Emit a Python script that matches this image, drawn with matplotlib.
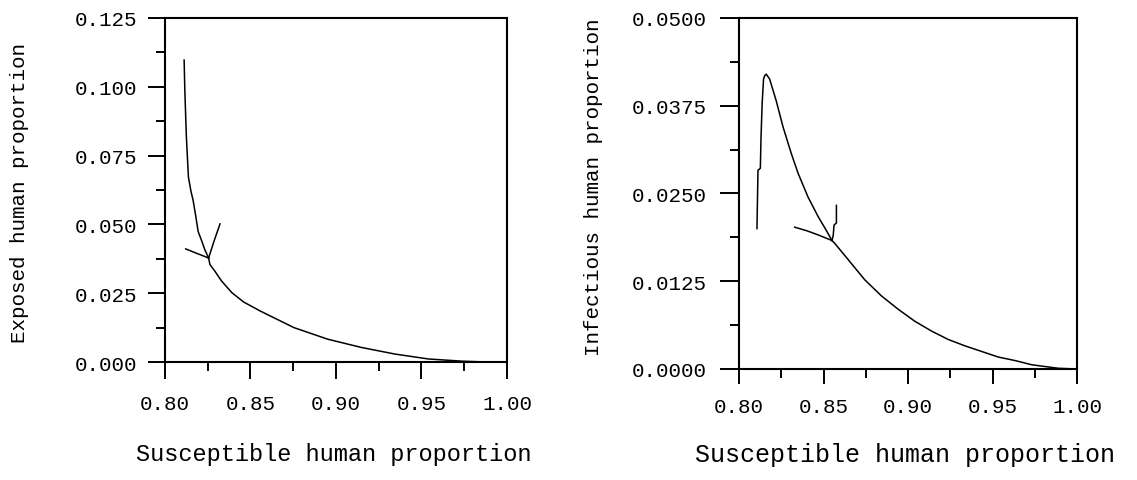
import matplotlib
matplotlib.use("Agg")
import matplotlib.pyplot as plt
from matplotlib.ticker import FixedLocator, FormatStrFormatter

plt.rcParams["font.family"] = ["Liberation Mono", "DejaVu Sans Mono"]

# ---- left panel: exposed vs susceptible (phase trajectories) ----
e_traj_s = [
    [0.8112, 0.8116, 0.8125, 0.8137, 0.8152, 0.8164, 0.8180, 0.8194, 0.8215, 0.8233, 0.8255],
    [0.8121, 0.8185, 0.8255],
    [0.8322, 0.8290, 0.8255],
    [1.0000, 0.9836, 0.9738, 0.9541, 0.9344, 0.9148, 0.8951, 0.8754, 0.8558,
     0.8460, 0.8391, 0.8330, 0.8292, 0.8263, 0.8255],
]
e_traj_e = [
    [0.1097, 0.0988, 0.0820, 0.0673, 0.0620, 0.0589, 0.0530, 0.0474, 0.0440, 0.0408, 0.0378],
    [0.0411, 0.0395, 0.0378],
    [0.0502, 0.0445, 0.0378],
    [0.0000, 0.0001, 0.0003, 0.0011, 0.0029, 0.0053, 0.0083, 0.0125, 0.0185,
     0.0218, 0.0252, 0.0295, 0.0330, 0.0354, 0.0378],
]

# ---- right panel: infectious vs susceptible ----
i_traj_s = [
    [0.8106, 0.8112, 0.8126, 0.8130, 0.8137, 0.8145, 0.8152, 0.8161, 0.8181,
     0.8220, 0.8260, 0.8309, 0.8349, 0.8408, 0.8468, 0.8510, 0.8550],
    [0.8329, 0.8400, 0.8468, 0.8550],
    [0.8576, 0.8576, 0.8562, 0.8557, 0.8550],
    [1.0000, 0.9889, 0.9732, 0.9633, 0.9534, 0.9435, 0.9336, 0.9238, 0.9139,
     0.9040, 0.8942, 0.8843, 0.8744, 0.8645, 0.8566, 0.8550],
]
i_traj_i = [
    [0.0200, 0.0283, 0.0286, 0.0330, 0.0380, 0.0413, 0.0418, 0.0420, 0.0413,
     0.0382, 0.0345, 0.0307, 0.0279, 0.0245, 0.0217, 0.0200, 0.0183],
    [0.0202, 0.0197, 0.0191, 0.0183],
    [0.0233, 0.0208, 0.0205, 0.0190, 0.0183],
    [0.0000, 0.0001, 0.0006, 0.0012, 0.0017, 0.0025, 0.0033, 0.0042, 0.0054,
     0.0068, 0.0085, 0.0104, 0.0127, 0.0156, 0.0179, 0.0183],
]

x_major = [0.80, 0.85, 0.90, 0.95, 1.00]
x_minor = [0.825, 0.875, 0.925, 0.975]
e_major = [0.000, 0.025, 0.050, 0.075, 0.100, 0.125]
e_minor = [0.0125, 0.0375, 0.0625, 0.0875, 0.1125]
i_major = [0.0000, 0.0125, 0.0250, 0.0375, 0.0500]
i_minor = [0.00625, 0.01875, 0.03125, 0.04375]

fig = plt.figure(figsize=(11.37, 4.81), dpi=100)
ax1 = fig.add_axes([0.1451, 0.2453, 0.3008, 0.7152])
ax2 = fig.add_axes([0.6500, 0.2308, 0.2973, 0.7297])


def style(ax, ymaj, ymin, yfmt, ylim, ylen, xlen, ypad, xpad):
    ax.set_xlim(0.8, 1.0)
    ax.set_ylim(*ylim)
    ax.xaxis.set_major_locator(FixedLocator(x_major))
    ax.xaxis.set_minor_locator(FixedLocator(x_minor))
    ax.yaxis.set_major_locator(FixedLocator(ymaj))
    ax.yaxis.set_minor_locator(FixedLocator(ymin))
    ax.xaxis.set_major_formatter(FormatStrFormatter("%.2f"))
    ax.yaxis.set_major_formatter(FormatStrFormatter(yfmt))
    ax.tick_params(which="both", direction="out", width=1.4, color="black",
                   labelsize=15)
    ax.tick_params(axis="y", which="major", length=ylen, pad=ypad)
    ax.tick_params(axis="x", which="major", length=xlen, pad=xpad)
    ax.tick_params(axis="y", which="minor", length=6.5)
    ax.tick_params(axis="x", which="minor", length=6.5)
    for sp in ax.spines.values():
        sp.set_linewidth(1.5)


style(ax1, e_major, e_minor, "%.3f", (0, 0.125), 12, 12, 8, 11)
style(ax2, i_major, i_minor, "%.4f", (0, 0.05), 14, 11, 9.5, 9.5)

for s, e in zip(e_traj_s, e_traj_e):
    ax1.plot(s, e, color="black", linewidth=1.1)
for s, i in zip(i_traj_s, i_traj_i):
    ax2.plot(s, i, color="black", linewidth=1.1)

ax1.set_xlabel("Susceptible human proportion", fontsize=17, va="center")
ax1.xaxis.set_label_coords(0.494, -0.267)
ax1.set_ylabel("Exposed human proportion", fontsize=15, va="center")
ax1.yaxis.set_label_coords(-0.424, 0.494)

ax2.set_xlabel("Susceptible human proportion", fontsize=18, va="center")
ax2.xaxis.set_label_coords(0.491, -0.242)
ax2.set_ylabel("Infectious human proportion", fontsize=15, va="center")
ax2.yaxis.set_label_coords(-0.432, 0.520)

fig.savefig("out.png", dpi=100, facecolor="white")
